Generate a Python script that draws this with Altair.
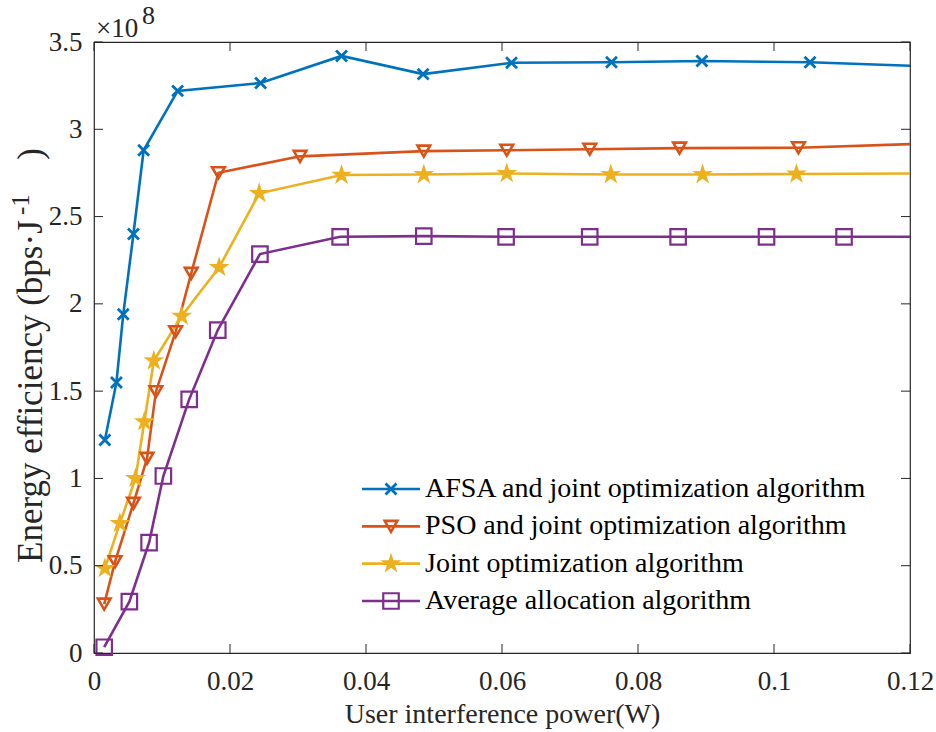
import altair as alt
import pandas as pd

SERIES = [
    "AFSA and joint optimization algorithm",
    "PSO and joint optimization algorithm",
    "Joint optimization algorithm",
    "Average allocation algorithm",
]
COLORS = ["#0072BD", "#D95319", "#EDB120", "#7E2F8E"]

x_afsa = [0.0016, 0.0033, 0.0043, 0.0058, 0.0073, 0.0123, 0.0245, 0.0364, 0.0484, 0.0614, 0.0761, 0.0894, 0.1053, 0.12]
y_afsa = [1.22, 1.55, 1.94, 2.40, 2.88, 3.22, 3.265, 3.42, 3.316, 3.381, 3.384, 3.391, 3.384, 3.364]

x_pso = [0.0015, 0.0031, 0.0058, 0.0078, 0.0091, 0.0120, 0.0143, 0.0183, 0.0303, 0.0485, 0.0607, 0.0729, 0.0861, 0.1036, 0.12]
y_pso = [0.28, 0.523, 0.857, 1.115, 1.497, 1.84, 2.175, 2.751, 2.845, 2.875, 2.880, 2.886, 2.892, 2.894, 2.915]

x_joint = [0.0016, 0.0038, 0.0061, 0.0074, 0.0088, 0.0129, 0.0184, 0.0243, 0.0364, 0.0485, 0.0607, 0.0760, 0.0895, 0.1033, 0.12]
y_joint = [0.485, 0.743, 1.0, 1.325, 1.674, 1.93, 2.209, 2.633, 2.738, 2.741, 2.747, 2.741, 2.741, 2.744, 2.747]

x_avg = [0.0015, 0.0052, 0.0081, 0.0102, 0.0140, 0.0182, 0.0244, 0.0362, 0.0485, 0.0606, 0.0729, 0.0859, 0.0989, 0.1103, 0.12]
y_avg = [0.033, 0.294, 0.632, 1.014, 1.453, 1.85, 2.285, 2.384, 2.388, 2.384, 2.384, 2.384, 2.384, 2.384, 2.384]

XTICKS = [0, 0.02, 0.04, 0.06, 0.08, 0.1, 0.12]
YTICKS = [0, 0.5, 1, 1.5, 2, 2.5, 3, 3.5]

Y_TITLE_MAIN = "Energy efficiency (bps·J"
Y_TITLE_SUP = "-1"
Y_TITLE_END = ")"

X_PATH = "M-1,-1L1,1M1,-1L-1,1"
STAR_PATH = ("M0,-1L0.2234,-0.3074L0.9511,-0.309L0.3614,0.1174L0.5878,0.809L0,0.38"
             "L-0.5878,0.809L-0.3614,0.1174L-0.9511,-0.309L-0.2234,-0.3074Z")
SHAPES = [X_PATH, "triangle-down", STAR_PATH, "square"]
SIZES = [120, 240, 500, 100]
STROKES = [2.8, 2.2, 1, 2.2]

FONT = "Liberation Serif"
INK = "#262626"
W, H = 816, 611

rows = []
for name, xs, ys in zip(SERIES, [x_afsa, x_pso, x_joint, x_avg], [y_afsa, y_pso, y_joint, y_avg]):
    n = len(xs)
    for i, (xv, yv) in enumerate(zip(xs, ys)):
        rows.append({"series": name, "x": xv, "y": yv, "i": i, "marked": i < n - 1})
df = pd.DataFrame(rows)

xscale = alt.Scale(domain=[0, 0.12], nice=False, zero=False)
yscale = alt.Scale(domain=[0, 3.5], nice=False)
xaxis = alt.Axis(values=XTICKS, labelExpr="'' + datum.value", title="User interference power(W)",
                 labelPadding=15, titlePadding=6, labelFlush=False, labelOverlap=False,
                 labelFontSize=27, titleFontSize=28,
                 grid=False, domain=False, ticks=False)
yaxis = alt.Axis(values=YTICKS, labelExpr="'' + datum.value", title=None,
                 labelPadding=12, labelFlush=False, labelOverlap=False,
                 labelFontSize=27,
                 grid=False, domain=False, ticks=False)

cscale = alt.Scale(domain=SERIES, range=COLORS)
sscale = alt.Scale(domain=SERIES, range=SHAPES)
zscale = alt.Scale(domain=SERIES, range=SIZES)
wscale = alt.Scale(domain=SERIES, range=STROKES)

color = alt.Color("series:N", scale=cscale, legend=None)
shape = alt.Shape("series:N", scale=sscale, legend=None)
size = alt.Size("series:N", scale=zscale, legend=None)
swidth = alt.StrokeWidth("series:N", scale=wscale, legend=None)
fill = alt.condition(alt.datum.series == "Joint optimization algorithm",
                     alt.value("#EDB120"), alt.value("transparent"))

X = alt.X("x:Q", scale=xscale, axis=xaxis)
Y = alt.Y("y:Q", scale=yscale, axis=yaxis)

lines = alt.Chart(df).mark_line(strokeWidth=2.6).encode(
    x=X, y=Y, color=color, order="i:Q")

points = alt.Chart(df).transform_filter("datum.marked").mark_point(
    opacity=1, fillOpacity=1).encode(
    x=X, y=Y, color=color, shape=shape, size=size, fill=fill, strokeWidth=swidth)

xt = pd.DataFrame({"v": XTICKS})
yt = pd.DataFrame({"v": YTICKS})
XV = alt.X("v:Q", scale=xscale, axis=xaxis)
YV = alt.Y("v:Q", scale=yscale, axis=yaxis)

xtick_b = alt.Chart(xt).mark_rule(color=INK, strokeWidth=1).encode(
    x=XV, y=alt.value(H), y2=alt.value(H - 9))
xtick_t = alt.Chart(xt).mark_rule(color=INK, strokeWidth=1).encode(
    x=XV, y=alt.value(0), y2=alt.value(9))
ytick_l = alt.Chart(yt).mark_rule(color=INK, strokeWidth=1).encode(
    y=YV, x=alt.value(0), x2=alt.value(9))
ytick_r = alt.Chart(yt).mark_rule(color=INK, strokeWidth=1).encode(
    y=YV, x=alt.value(W), x2=alt.value(W - 9))

txt = alt.Chart(pd.DataFrame({"a": ["×10"], "b": ["8"], "m": [Y_TITLE_MAIN],
                              "s": [Y_TITLE_SUP], "e": [Y_TITLE_END]}))
exp1 = txt.mark_text(align="left", baseline="alphabetic", font=FONT,
                     fontSize=27, color=INK).encode(
    x=alt.value(2), y=alt.value(-5), text="a:N")
exp2 = txt.mark_text(align="left", baseline="alphabetic", font=FONT,
                     fontSize=26, color=INK).encode(
    x=alt.value(48), y=alt.value(-18), text="b:N")
yt_main = txt.mark_text(align="left", baseline="alphabetic", angle=270, font=FONT,
                        fontSize=35, color=INK).encode(
    x=alt.value(-52), y=alt.value(521), text="m:N")
yt_sup = txt.mark_text(align="left", baseline="alphabetic", angle=270, font=FONT,
                       fontSize=25, color=INK).encode(
    x=alt.value(-65), y=alt.value(173), text="s:N")
yt_end = txt.mark_text(align="right", baseline="alphabetic", angle=270, font=FONT,
                       fontSize=35, color=INK).encode(
    x=alt.value(-52), y=alt.value(106), text="e:N")

main = alt.layer(lines, points, xtick_b, xtick_t, ytick_l, ytick_r,
                 exp1, exp2, yt_main, yt_sup, yt_end)

leg_df = pd.DataFrame({"series": SERIES, "idx": list(range(len(SERIES)))})
LY = alt.Y("idx:Q", scale=alt.Scale(domain=[0, 3], range=[447, 559]), axis=None)
leg_rule = alt.Chart(leg_df).mark_rule(strokeWidth=2.6).encode(
    x=alt.value(268), x2=alt.value(326), y=LY, color=color)
leg_pts = alt.Chart(leg_df).mark_point(opacity=1, fillOpacity=1).encode(
    x=alt.value(297), y=LY, color=color, shape=shape, size=size, fill=fill,
    strokeWidth=swidth)
leg_txt = alt.Chart(leg_df).mark_text(align="left", baseline="middle", font=FONT,
                                      fontSize=28, color="#000000").encode(
    x=alt.value(331), y=LY, text="series:N")
legend = alt.layer(leg_rule, leg_pts, leg_txt)

chart = alt.layer(main, legend).resolve_scale(y="independent").properties(
    width=W, height=H,
    background="white",
    autosize=alt.AutoSizeParams(type="none"),
    padding={"left": 94, "top": 42, "right": 26, "bottom": 79},
).configure_view(
    stroke=INK, strokeWidth=1.2
).configure_axis(
    labelFont=FONT, labelFontSize=27, labelColor=INK,
    titleFont=FONT, titleFontSize=28, titleColor=INK, titleFontWeight="normal",
    domain=False, ticks=False, grid=False,
)

chart.save("out.html", embed_options={"renderer": "svg", "actions": False})
